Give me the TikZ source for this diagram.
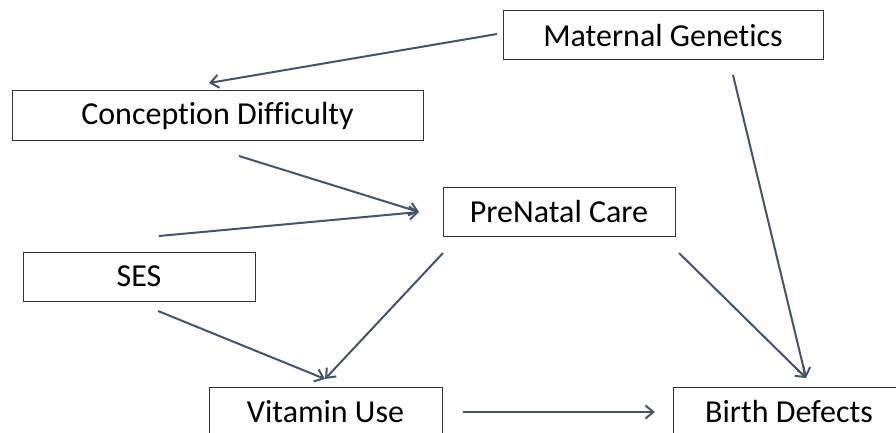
\documentclass[tikz,border=0pt]{standalone}
\usepackage{fontspec}
\setmainfont[Ligatures={NoCommon}]{Carlito}
\usetikzlibrary{arrows.meta}
\definecolor{arrowc}{RGB}{68,84,106}
\begin{document}
\begin{tikzpicture}[x=1pt,y=-1pt,
  box/.style={draw=black!80, line width=1pt, fill=white, inner sep=0pt,
    minimum height=49pt, font=\fontsize{32}{38}\selectfont},
  conn/.style={draw=arrowc, line width=2pt, -{Straight Barb[length=8pt,width=13pt]}}]
\useasboundingbox (0,0) rectangle (896,433);
\clip (0,0) rectangle (896,433);
\fill[white] (0,0) rectangle (896,433);
\node[box, minimum width=320pt] (mg) at (663,35.5) {Maternal Genetics};
\node[box, minimum width=411pt] (cd) at (217.5,115.5) {Conception Difficulty};
\node[box, minimum width=232pt] (pnc) at (559,211.5) {PreNatal Care};
\node[box, minimum width=232pt] (ses) at (139,276.5) {SES};
\node[box, minimum width=233pt] (vu) at (325.5,411.5) {Vitamin Use};
\node[box, minimum width=232pt] (bd) at (789,411.5) {Birth Defects};
% connector end points
\coordinate (mgL) at (497,34);
\coordinate (cdT) at (209,83);
\coordinate (mgB) at (733,75);
\coordinate (bdT) at (806,378);
\coordinate (cdB) at (239,156);
\coordinate (pncL) at (419,212);
\coordinate (sesT) at (159,236);
\coordinate (pncBL) at (443,253);
\coordinate (vuT) at (325,379);
\coordinate (sesB) at (158,311);
\coordinate (pncBR) at (679,253);
\coordinate (vuR) at (463,412);
\coordinate (bdL) at (655,412);
\draw[conn] (mgL) -- (cdT);
\draw[conn] (mgB) -- (bdT);
\draw[conn] (cdB) -- (pncL);
\draw[conn] (sesT) -- (pncL);
\draw[conn] (pncBL) -- (vuT);
\draw[conn] (sesB) -- (vuT);
\draw[conn] (pncBR) -- (bdT);
\draw[conn] (vuR) -- (bdL);
\end{tikzpicture}
\end{document}
